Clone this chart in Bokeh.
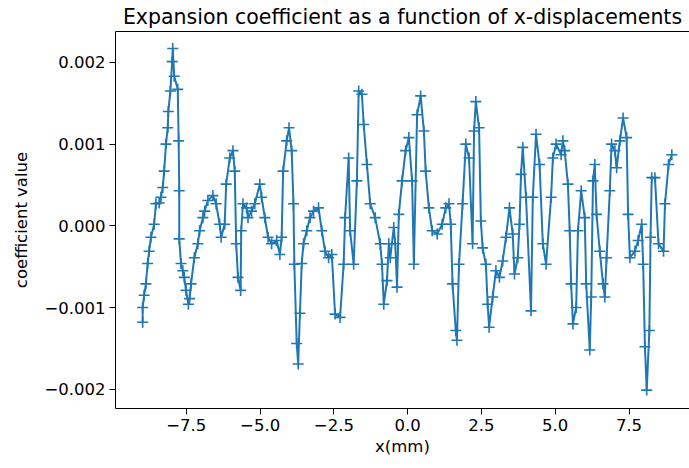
from bokeh.plotting import figure
from bokeh.models import Range1d, FixedTicker, LinearAxis
from bokeh.embed import file_html
from bokeh.resources import INLINE

# x-displacement (mm)
x_mm = [-8.98, -8.98, -8.93, -8.87, -8.81, -8.76, -8.70, -8.59, -8.53, -8.42,
        -8.36, -8.30, -8.25, -8.19, -8.13, -8.11, -8.04, -7.98, -7.96, -7.91,
        -7.79, -7.76, -7.74, -7.74, -7.68, -7.62, -7.57, -7.51, -7.43, -7.39,
        -7.34, -7.23, -7.11, -7.05, -6.94, -6.88, -6.77, -6.60, -6.49, -6.37,
        -6.32, -6.20, -6.15, -6.03, -5.92, -5.86, -5.81, -5.75, -5.66, -5.64,
        -5.58, -5.46, -5.41, -5.29, -5.18, -5.01, -4.95, -4.84, -4.73, -4.61,
        -4.44, -4.33, -4.27, -4.22, -4.10, -4.02, -3.93, -3.87, -3.84, -3.76,
        -3.71, -3.65, -3.59, -3.53, -3.42, -3.31, -3.19, -3.02, -2.91, -2.80,
        -2.68, -2.57, -2.46, -2.29, -2.17, -2.12, -2.00, -1.95, -1.83, -1.72,
        -1.66, -1.55, -1.49, -1.38, -1.27, -1.10, -0.93, -0.87, -0.81, -0.70,
        -0.64, -0.59, -0.47, -0.42, -0.36, -0.30, -0.19, -0.07, 0.04, 0.15,
        0.21, 0.32, 0.44, 0.55, 0.61, 0.72, 0.83, 1.00, 1.17, 1.29,
        1.40, 1.46, 1.52, 1.63, 1.67, 1.74, 1.86, 1.97, 2.08, 2.20,
        2.25, 2.31, 2.42, 2.48, 2.54, 2.65, 2.71, 2.76, 2.88, 2.99,
        3.11, 3.22, 3.33, 3.45, 3.56, 3.62, 3.73, 3.79, 3.84, 3.90,
        4.01, 4.18, 4.24, 4.35, 4.47, 4.58, 4.69, 4.86, 4.92, 5.03,
        5.20, 5.26, 5.32, 5.43, 5.49, 5.54, 5.60, 5.71, 5.77, 5.88,
        6.00, 6.05, 6.17, 6.22, 6.28, 6.34, 6.40, 6.51, 6.62, 6.68,
        6.74, 6.85, 6.91, 7.02, 7.08, 7.19, 7.30, 7.42, 7.47, 7.53,
        7.70, 7.81, 7.93, 7.98, 8.04, 8.10, 8.19, 8.23, 8.27, 8.38,
        8.50, 8.67, 8.72, 8.84, 8.95]

# expansion coefficient (x 1e-3)
coef_milli = [-1.18, -1.00, -0.85, -0.71, -0.46, -0.31, -0.14, 0.02, 0.27, 0.28,
              0.35, 0.47, 0.67, 1.00, 1.20, 1.40, 1.65, 2.01, 2.17, 1.83,
              1.67, 1.04, 0.43, -0.16, -0.46, -0.55, -0.63, -0.79, -0.96, -0.89,
              -0.71, -0.39, -0.22, -0.06, 0.10, 0.18, 0.31, 0.37, 0.27, 0.02,
              -0.14, 0.02, 0.51, 0.83, 0.92, 0.67, -0.22, -0.63, -0.79, -0.06,
              0.27, 0.22, 0.10, 0.18, 0.27, 0.51, 0.35, 0.10, -0.14, -0.22,
              -0.18, -0.35, -0.14, 0.67, 1.04, 1.20, 0.92, 0.27, -0.47, -1.44,
              -1.69, -1.07, -0.46, -0.22, -0.06, 0.10, 0.18, 0.22, -0.06, -0.31,
              -0.39, -0.35, -1.08, -1.12, -0.47, 0.10, 0.83, -0.06, -0.47, 0.55,
              1.65, 1.61, 1.24, 0.75, 0.27, 0.10, -0.22, -0.47, -0.96, -0.67,
              -0.22, -0.39, -0.02, -0.22, -0.75, 0.14, 0.55, 0.92, 1.08, 0.55,
              -0.47, 1.36, 1.59, 1.16, 0.67, 0.22, -0.06, -0.10, 0.02, 0.22,
              0.27, 0.02, -0.71, -1.28, -1.40, -0.47, 0.27, 1.00, 0.83, -0.22,
              1.16, 1.52, 1.20, 0.06, -0.27, -0.47, -0.96, -1.24, -0.87, -0.55,
              -0.63, -0.43, -0.14, 0.22, -0.10, -0.59, -0.39, 0.02, 0.63, 0.96,
              0.35, -1.04, 0.35, 1.12, 0.75, -0.22, -0.47, 0.35, 0.83, 1.00,
              0.87, 1.04, 0.92, 0.51, -0.06, -0.71, -1.20, -1.00, -0.06, 0.43,
              0.10, -0.71, -1.52, -0.87, 0.55, 0.75, 0.14, -0.31, -0.71, -0.87,
              -0.39, 0.43, 1.00, 0.92, 0.71, 1.04, 1.32, 1.08, 0.14, -0.39,
              -0.31, -0.18, 0.02, -0.47, -1.48, -2.01, -1.28, -0.14, 0.59, 0.59,
              -0.22, -0.31, 0.27, 0.75, 0.87]
coef = [v * 1e-3 for v in coef_milli]

x_ticks = [-7.5, -5.0, -2.5, 0.0, 2.5, 5.0, 7.5]
x_tick_labels = ["\u22127.5", "\u22125.0", "\u22122.5", "0.0", "2.5", "5.0", "7.5"]
y_ticks = [-0.002, -0.001, 0.0, 0.001, 0.002]
y_tick_labels = ["\u22120.002", "\u22120.001", "0.000", "0.001", "0.002"]

title_text = "Expansion coefficient as a function of x-displacements"
x_label = "x(mm)"
y_label = "coefficient value"

BLUE = "#1f77b4"
FONT = "DejaVu Sans"

p = figure(width=689, height=468, output_backend="svg", toolbar_location=None,
           x_range=Range1d(-9.9, 9.55), y_range=Range1d(-0.002235, 0.002378),
           min_border_left=115, min_border_right=0, min_border_top=30,
           min_border_bottom=60, title=title_text)
p.outline_line_color = None
p.xgrid.visible = False
p.ygrid.visible = False
p.background_fill_color = "white"
p.border_fill_color = "white"

p.title.text_font = FONT
p.title.text_font_size = "20.5px"
p.title.text_font_style = "normal"
p.title.align = "center"
p.title.text_color = "#000000"
p.title.standoff = 5

for ax, ticks, labels in ((p.xaxis[0], x_ticks, x_tick_labels), (p.yaxis[0], y_ticks, y_tick_labels)):
    ax.ticker = FixedTicker(ticks=ticks)
    ax.major_label_overrides = {t: l for t, l in zip(ticks, labels)}
    ax.minor_tick_line_color = None
    ax.major_tick_out = 6
    ax.major_tick_in = 0
    ax.major_label_standoff = 4
    ax.major_label_text_font = FONT
    ax.major_label_text_font_size = "16.5px"
    ax.major_label_text_color = "#000000"
    ax.axis_label_text_font = FONT
    ax.axis_label_text_font_size = "16.5px"
    ax.axis_label_text_font_style = "normal"
    ax.axis_label_text_color = "#000000"
    ax.axis_line_color = "#000000"
    ax.major_tick_line_color = "#000000"

p.xaxis[0].axis_label = x_label
p.yaxis[0].axis_label = y_label
p.xaxis[0].axis_label_standoff = 3
p.yaxis[0].axis_label_standoff = 10

top_axis = LinearAxis(ticker=FixedTicker(ticks=[]), major_tick_out=0, major_tick_in=0,
                      minor_tick_out=0, minor_tick_in=0, axis_line_color="#000000")
p.add_layout(top_axis, "above")

p.line(x_mm, coef, line_color=BLUE, line_width=2)
p.scatter(x_mm, coef, marker="cross", size=11, line_color=BLUE, line_width=1.6)

open("out.html", "w").write(file_html(p, INLINE))
